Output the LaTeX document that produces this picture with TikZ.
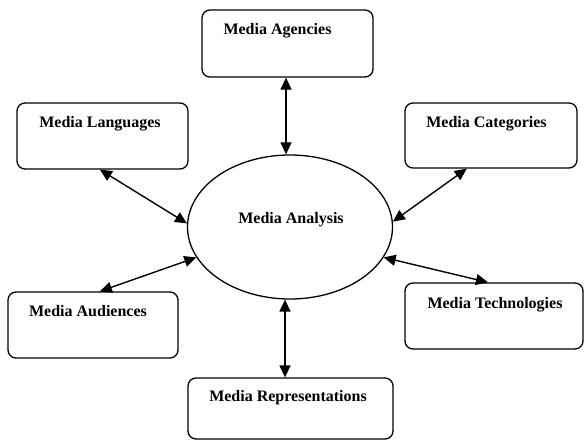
\documentclass[tikz,border=0pt]{standalone}
\usepackage{fontspec}
\setmainfont{Liberation Serif}
\usetikzlibrary{arrows.meta,shapes.geometric,calc}
\tikzset{
  mbox/.style={draw, line width=1.3pt, rounded corners=8pt, inner sep=0pt},
  mlabel/.style={font=\fontsize{16}{19}\selectfont\bfseries, anchor=base, inner sep=0pt},
  link/.style={line width=1.4pt, {Triangle[length=12pt,width=11pt]}-{Triangle[length=12pt,width=11pt]}}
}
\begin{document}
\begin{tikzpicture}[x=1pt,y=-1pt]
\useasboundingbox (0,0) rectangle (585,441);
% boxes
\node[mbox, minimum width=171pt, minimum height=67pt] (ag) at (287.5,43.5) {};
\node[mbox, minimum width=171pt, minimum height=66pt] (la) at (102.5,136) {};
\node[mbox, minimum width=172pt, minimum height=65pt] (ca) at (491,135.5) {};
\node[mbox, minimum width=170pt, minimum height=66pt] (au) at (93,325) {};
\node[mbox, minimum width=178pt, minimum height=66pt] (te) at (494,316) {};
\node[mbox, minimum width=205pt, minimum height=61pt] (re) at (290.5,408.5) {};
% ellipse
\node[draw, line width=1.3pt, ellipse, minimum width=205pt, minimum height=144pt, inner sep=0pt] (an) at (290,227) {};
% labels
\node[mlabel] (agt) at (277.5,35) {Media Agencies};
\node[mlabel] (lat) at (100,127.7) {Media Languages};
\node[mlabel] (cat) at (486.5,127.3) {Media Categories};
\node[mlabel] (aut) at (88,316.7) {Media Audiences};
\node[mlabel] (tet) at (495,308.3) {Media Technologies};
\node[mlabel] (ret) at (288,401.7) {Media Representations};
\node[mlabel] (ant) at (291,223.3) {Media Analysis};
% connector ends
\coordinate (agc) at ($(ag.south)+(-1.5,0)$);
\coordinate (rec) at ($(re.north)+(-5.5,0)$);
% connectors
\draw[link] (agc) -- (agc |- an.north);
\draw[link] (rec) -- (rec |- an.south);
\draw[link] ($(la.south west)!0.485!(la.south east)$) -- (an.178);
\draw[link] ($(ca.south west)!0.36!(ca.south east)$) -- (an.3);
\draw[link] ($(au.north west)!0.54!(au.north east)$) -- (an.198.4);
\draw[link] ($(te.north west)!0.466!(te.north east)$) -- (an.342.5);
\end{tikzpicture}
\end{document}
